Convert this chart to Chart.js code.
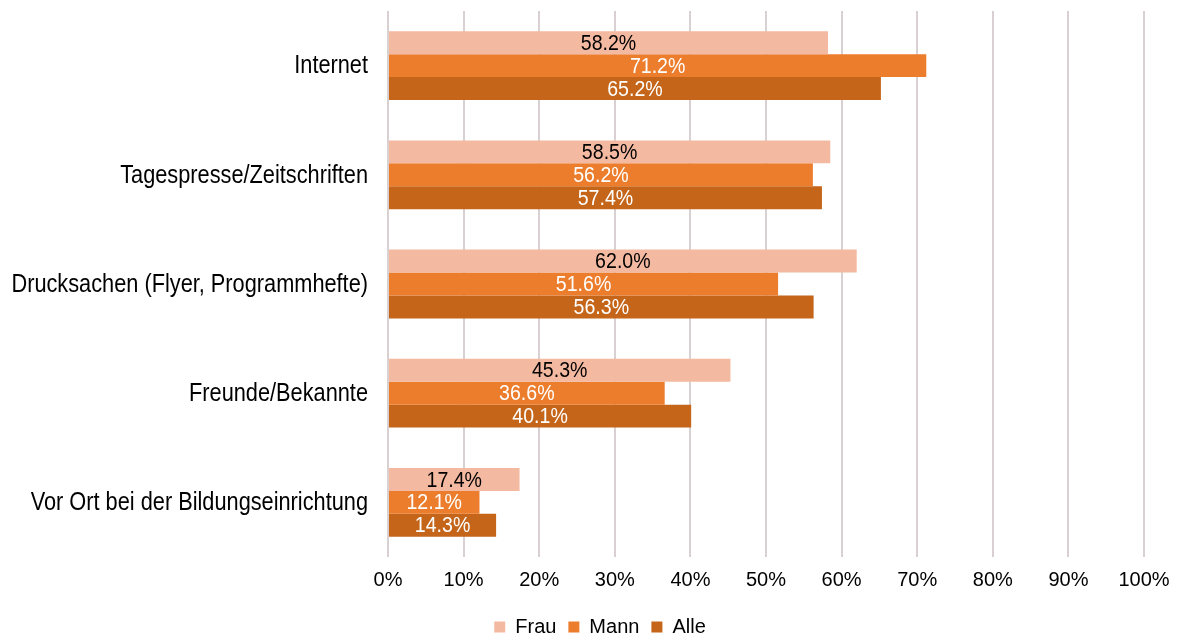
<!DOCTYPE html>
<html>
<head>
<meta charset="utf-8">
<script src="https://cdn.jsdelivr.net/npm/chart.js@4/dist/chart.umd.min.js"></script>
<style>
  html, body { margin: 0; padding: 0; background: #fff; }
  #wrap { width: 1184px; height: 636px; }
</style>
</head>
<body>
<div id="wrap"><canvas id="chart"></canvas></div>
<script>
    var categories = [
        'Internet',
        'Tagespresse/Zeitschriften',
        'Drucksachen (Flyer, Programmhefte)',
        'Freunde/Bekannte',
        'Vor Ort bei der Bildungseinrichtung'
    ];
    var frau = [58.2, 58.5, 62.0, 45.3, 17.4];
    var mann = [71.2, 56.2, 51.6, 36.6, 12.1];
    var alle = [65.2, 57.4, 56.3, 40.1, 14.3];
    var xTicks = [0, 10, 20, 30, 40, 50, 60, 70, 80, 90, 100];

    var FONT = "'Liberation Sans', Arial, sans-serif";

    // the source uses a narrow Helvetica; squeeze text horizontally to get close
    function narrowText(ctx, text, x, y, size, squeeze, align, color) {
        ctx.save();
        ctx.font = size + 'px ' + FONT;
        ctx.fillStyle = color;
        ctx.textAlign = align;
        ctx.textBaseline = 'middle';
        ctx.translate(x, y);
        ctx.scale(squeeze, 1);
        ctx.fillText(text, 0, 0);
        ctx.restore();
    }

    var textPlugin = {
        id: 'narrowLabels',
        afterLayout: function(chart) {
            // legend sits centred on the whole canvas in the source, not on the padded box
            if (chart.legend) {
                chart.legend.left += 28;
                chart.legend.right += 28;
            }
        },
        afterDatasetsDraw: function(chart) {
            var ctx = chart.ctx;
            // value labels in the middle of each bar
            chart.data.datasets.forEach(function(ds, di) {
                var meta = chart.getDatasetMeta(di);
                meta.data.forEach(function(bar, i) {
                    var mid = (bar.x + bar.base) / 2;
                    narrowText(ctx, ds.data[i].toFixed(1) + '%', mid, bar.y + 1, 22, 0.89, 'center', ds.labelColor);
                });
            });
            // category labels
            var yScale = chart.scales.y;
            categories.forEach(function(c, i) {
                narrowText(ctx, c, yScale.right - 20, yScale.getPixelForTick(i) + 1, 25, 0.87, 'right', '#000');
            });
        }
    };

    new Chart(document.getElementById('chart'), {
        type: 'bar',
        data: {
            labels: categories,
            datasets: [
                { label: 'Frau', data: frau, backgroundColor: '#F4B9A1', labelColor: '#000000' },
                { label: 'Mann', data: mann, backgroundColor: '#EC7D2C', labelColor: '#ffffff' },
                { label: 'Alle', data: alle, backgroundColor: '#C4651A', labelColor: '#ffffff' }
            ]
        },
        options: {
            indexAxis: 'y',
            responsive: true,
            maintainAspectRatio: false,
            animation: false,
            layout: { padding: { top: 11, right: 40, bottom: -11, left: 0 } },
            datasets: {
                bar: { categoryPercentage: 0.63, barPercentage: 1.0 }
            },
            scales: {
                x: {
                    min: 0,
                    max: 100,
                    afterBuildTicks: function(scale) {
                        scale.ticks = xTicks.map(function(v) { return { value: v }; });
                    },
                    afterFit: function(scale) { scale.height = 48; },
                    grid: { color: '#D9D1D1', lineWidth: 2, drawTicks: false },
                    border: { display: false },
                    ticks: {
                        padding: 11,
                        color: '#000',
                        font: { family: FONT, size: 20 },
                        callback: function(v) { return v + '%'; }
                    }
                },
                y: {
                    grid: { display: false },
                    border: { display: false },
                    afterFit: function(scale) {
                        scale.width = 388;
                        scale.paddingTop = 0;
                        scale.paddingBottom = 0;
                    },
                    ticks: { display: false }
                }
            },
            plugins: {
                legend: {
                    position: 'bottom',
                    labels: {
                        boxWidth: 11,
                        boxHeight: 11,
                        padding: 12,
                        color: '#000',
                        font: { family: FONT, size: 20 }
                    }
                },
                tooltip: { enabled: false }
            }
        },
        plugins: [textPlugin]
    });
</script>
</body>
</html>
